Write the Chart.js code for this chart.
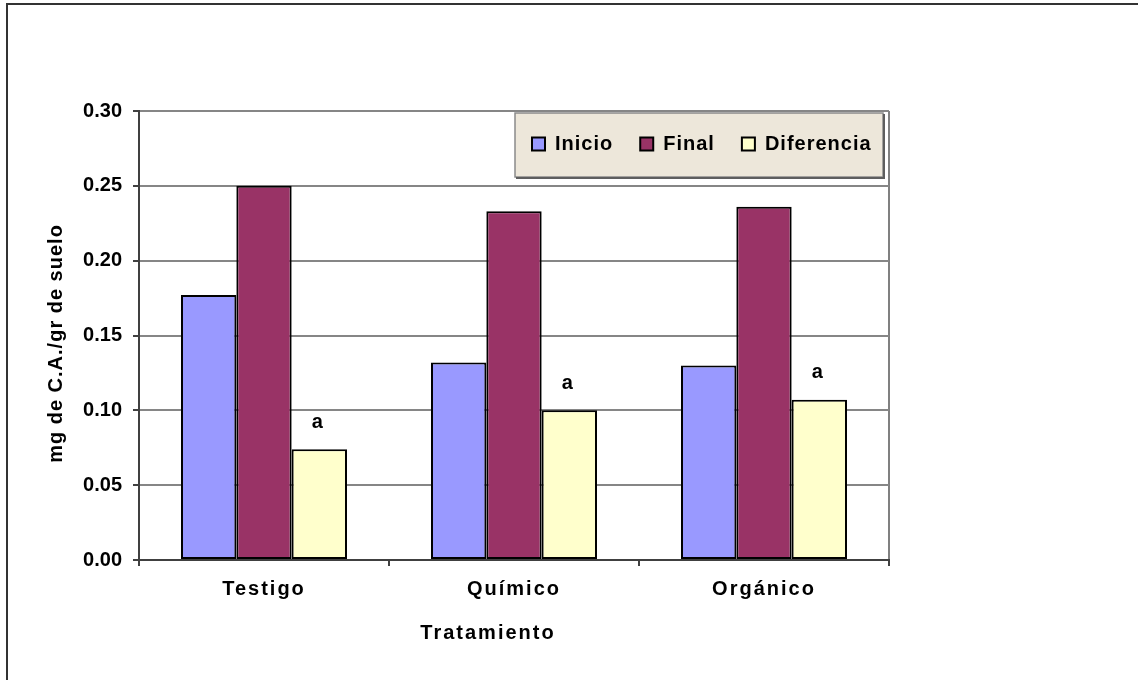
<!DOCTYPE html>
<html>
<head>
<meta charset="utf-8">
<title>Carbono activo por tratamiento</title>
<script src="https://cdn.jsdelivr.net/npm/chart.js@4/dist/chart.umd.min.js"></script>
<style>
  html, body { margin: 0; padding: 0; background: #ffffff; }
  canvas { display: block; }
</style>
</head>
<body>
<canvas id="grafico" width="1138" height="680"></canvas>
<script>
// Datos: mg de C.A. por gramo de suelo, al inicio y al final, por tratamiento
const tratamientos = ['Testigo', 'Químico', 'Orgánico'];
const inicio = [0.177, 0.132, 0.130];
const final = [0.250, 0.233, 0.236];
const diferencia = [0.074, 0.100, 0.107];
const letras = ['a', 'a', 'a'];          // grupos estadísticos de la diferencia
const nombresSeries = ['Inicio', 'Final', 'Diferencia'];
const coloresSeries = ['#9999FF', '#993366', '#FFFFCC'];
const ejeY = { min: 0, max: 0.30, paso: 0.05 };
const tituloX = 'Tratamiento';
const tituloY = 'mg de C.A./gr de suelo';

const FUENTE = '"Liberation Sans", Arial, Helvetica, sans-serif';
Chart.defaults.font.family = FUENTE;
Chart.defaults.color = '#000000';

// Envuelve un método de dibujo para aplicar espaciado entre letras (y un desplazamiento opcional)
function conEspaciado(fn, espacio, dx, dy) {
  return function (...args) {
    const ctx = this.ctx;
    ctx.save();
    ctx.letterSpacing = espacio;
    if (dx || dy) ctx.translate(dx || 0, dy || 0);
    fn.apply(this, args);
    ctx.restore();
  };
}

const decorado = {
  id: 'decorado',
  afterLayout(chart) {
    // Leyenda dentro del área de trazado, arriba a la derecha
    const lg = chart.legend;
    lg.left = 505; lg.right = 1000;
    lg.top = 107; lg.bottom = 180;
    lg.width = lg.right - lg.left;
    lg.height = lg.bottom - lg.top;
    if (!lg._espaciado) {
      lg.draw = conEspaciado(lg.draw, '1px');
      lg._espaciado = true;
    }
    const sx = chart.scales.x, sy = chart.scales.y;
    if (!sx._espaciado) {
      sx.drawLabels = conEspaciado(sx.drawLabels, '2px');
      sx.drawTitle = conEspaciado(sx.drawTitle, '2px', -26, 0);
      sx._espaciado = true;
    }
    if (!sy._espaciado) {
      sy.drawTitle = conEspaciado(sy.drawTitle, '1px', 0, 8);
      sy._espaciado = true;
    }
  },
  beforeDraw(chart) {
    const { ctx, chartArea: ca, width, height } = chart;
    ctx.save();
    // Marco exterior del gráfico
    ctx.strokeStyle = '#333333';
    ctx.lineWidth = 2;
    ctx.beginPath();
    ctx.moveTo(7, height + 5);
    ctx.lineTo(7, 4);
    ctx.lineTo(width + 5, 4);
    ctx.stroke();
    // Borde derecho del área de trazado
    ctx.strokeStyle = '#808080';
    ctx.beginPath();
    ctx.moveTo(ca.right, ca.top);
    ctx.lineTo(ca.right, ca.bottom);
    ctx.stroke();
    // Fondo y sombra del recuadro de la leyenda
    const lx = 515, ly = 113, lw = 368, lh = 64;
    ctx.fillStyle = '#EDE7DA';
    ctx.fillRect(lx, ly, lw, lh);
    ctx.strokeStyle = '#8a8a8a';
    ctx.lineWidth = 1.5;
    ctx.strokeRect(lx, ly, lw, lh);
    ctx.strokeStyle = '#5e5e5e';
    ctx.lineWidth = 2;
    ctx.beginPath();
    ctx.moveTo(lx + 1, ly + lh + 1);
    ctx.lineTo(lx + lw + 1, ly + lh + 1);
    ctx.lineTo(lx + lw + 1, ly + 1);
    ctx.stroke();
    ctx.restore();
  },
  afterDatasetsDraw(chart) {
    // Letras de significancia sobre las barras de la diferencia
    const { ctx } = chart;
    const meta = chart.getDatasetMeta(2);
    ctx.save();
    ctx.font = 'bold 20px ' + FUENTE;
    ctx.fillStyle = '#000000';
    ctx.textAlign = 'center';
    ctx.textBaseline = 'middle';
    meta.data.forEach((barra, i) => {
      ctx.fillText(letras[i], barra.x - 2, barra.y - 27);
    });
    ctx.restore();
  }
};

const series = [inicio, final, diferencia];

new Chart(document.getElementById('grafico'), {
  type: 'bar',
  data: {
    labels: tratamientos,
    datasets: series.map((valores, i) => ({
      label: nombresSeries[i],
      data: valores,
      backgroundColor: coloresSeries[i],
      borderColor: '#000000',
      borderWidth: 2,
      borderSkipped: false,
      barPercentage: 1,
      categoryPercentage: 0.664
    }))
  },
  options: {
    responsive: false,
    animation: false,
    devicePixelRatio: 1,
    events: [],
    layout: { padding: { left: 0, top: 110, right: 249, bottom: 0 } },
    plugins: {
      tooltip: { enabled: false },
      legend: {
        position: 'top',
        align: 'start',
        maxHeight: 1,
        labels: {
          boxWidth: 13,
          boxHeight: 13,
          padding: 27,
          color: '#000000',
          font: { size: 20, weight: 'bold' }
        }
      }
    },
    scales: {
      x: {
        afterFit(scale) { scale.height = 120; },
        grid: {
          drawOnChartArea: false,
          drawTicks: true,
          tickLength: 6,
          color: '#404040',
          lineWidth: 2
        },
        border: { color: '#404040', width: 2 },
        ticks: {
          padding: 11,
          color: '#000000',
          font: { size: 20, weight: 'bold' }
        },
        title: {
          display: true,
          text: tituloX,
          color: '#000000',
          font: { size: 20, weight: 'bold' },
          padding: { top: 0, bottom: 35 }
        }
      },
      y: {
        min: ejeY.min,
        max: ejeY.max,
        afterFit(scale) { scale.width = 139; },
        grid: {
          color: '#868686',
          lineWidth: 2,
          drawTicks: true,
          tickLength: 6,
          tickColor: '#404040'
        },
        border: { color: '#404040', width: 2 },
        ticks: {
          stepSize: ejeY.paso,
          padding: 11,
          color: '#000000',
          font: { size: 20, weight: 'bold' },
          callback: (v) => Number(v).toFixed(2)
        },
        title: {
          display: true,
          text: tituloY,
          color: '#000000',
          font: { size: 20, weight: 'bold' },
          padding: { top: 44, bottom: 0 }
        }
      }
    }
  },
  plugins: [decorado]
});
</script>
</body>
</html>
